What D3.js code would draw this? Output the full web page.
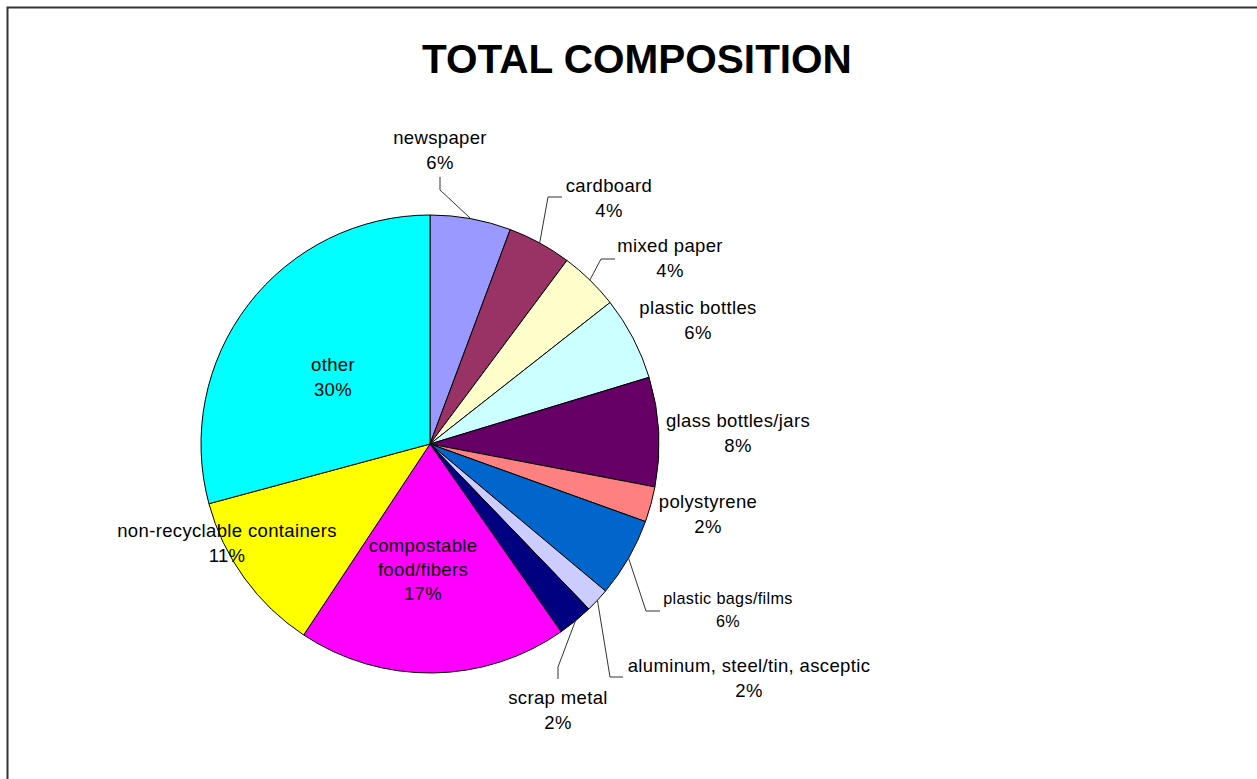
<!DOCTYPE html>
<html>
<head>
<meta charset="utf-8">
<script src="https://cdn.jsdelivr.net/npm/d3@7/dist/d3.min.js"></script>
<style>
  html, body { margin: 0; padding: 0; background: #fff; }
  svg { display: block; }
  text { font-family: "Liberation Sans", Arial, sans-serif; fill: #000; }
</style>
</head>
<body>
<svg id="chart" width="1257" height="779"></svg>
<script>
// slices, clockwise from 12 o'clock
var categories = ['newspaper', 'cardboard', 'mixed paper', 'plastic bottles',
  'glass bottles/jars', 'polystyrene', 'plastic bags/films',
  'aluminum, steel/tin, asceptic', 'scrap metal', 'compostable food/fibers',
  'non-recyclable containers', 'other'];
var shares = [5.7, 4.5, 4.2, 5.9, 7.7, 2.5, 5.6, 1.7, 2.5, 19.0, 11.5, 29.2];
var pctLabels = ['6%', '4%', '4%', '6%', '8%', '2%', '6%', '2%', '2%', '17%', '11%', '30%'];
var colors = ['#9999ff', '#993366', '#ffffcc', '#ccffff', '#660066', '#ff8080',
  '#0066cc', '#ccccff', '#000080', '#ff00ff', '#ffff00', '#00ffff'];

// label layout: text lines, centre x, first baseline, line step, font size,
// and the elbow of the leader line (null when there is none)
var labelLayout = [
  { lines: ['newspaper'], x: 440, y: 144, step: 25, size: 18.5, leader: [[440, 177], [440, 190]] },
  { lines: ['cardboard'], x: 609, y: 192, step: 25, size: 18.5, leader: [[562, 197], [548, 197]] },
  { lines: ['mixed paper'], x: 670, y: 252, step: 25, size: 18.5, leader: [[615, 259], [601, 259]] },
  { lines: ['plastic bottles'], x: 698, y: 314, step: 25, size: 18.5, leader: null },
  { lines: ['glass bottles/jars'], x: 738, y: 427, step: 25, size: 18.5, leader: null },
  { lines: ['polystyrene'], x: 708, y: 508, step: 25, size: 18.5, leader: null },
  { lines: ['plastic bags/films'], x: 728, y: 604, step: 23, size: 16.2, leader: [[660, 611], [646, 611]] },
  { lines: ['aluminum, steel/tin, asceptic'], x: 749, y: 672, step: 25, size: 18.5, leader: [[623, 677], [610, 677]] },
  { lines: ['scrap metal'], x: 558, y: 704, step: 25, size: 18.5, leader: [[558, 679], [558, 667]] },
  { lines: ['compostable', 'food/fibers'], x: 423, y: 552, step: 24, size: 18.5, leader: null },
  { lines: ['non-recyclable containers'], x: 227, y: 537, step: 25, size: 18.5, leader: null },
  { lines: ['other'], x: 333, y: 371, step: 25, size: 18.5, leader: null }
];

var cx = 430, cy = 444, radius = 229;

var svg = d3.select('#chart');

// outer frame (runs off the right and bottom edges)
svg.append('rect')
  .attr('x', 7.5).attr('y', 7.5)
  .attr('width', 1400).attr('height', 900)
  .attr('fill', 'none')
  .attr('stroke', '#333')
  .attr('stroke-width', 2);

svg.append('text')
  .attr('x', 637).attr('y', 73)
  .attr('text-anchor', 'middle')
  .style('font-size', '40.5px')
  .style('font-weight', 'bold')
  .text('TOTAL COMPOSITION');

var data = categories.map(function (c, i) {
  return { name: c, value: shares[i], pct: pctLabels[i], color: colors[i], layout: labelLayout[i] };
});

var pie = d3.pie().sort(null).value(function (d) { return d.value; });
var arc = d3.arc().innerRadius(0).outerRadius(radius);
var edge = d3.arc().innerRadius(radius).outerRadius(radius);

var arcs = pie(data);

var g = svg.append('g').attr('transform', 'translate(' + cx + ',' + cy + ')');

g.selectAll('path.slice')
  .data(arcs)
  .enter().append('path')
  .attr('class', 'slice')
  .attr('d', arc)
  .attr('fill', function (d) { return d.data.color; })
  .attr('stroke', '#000')
  .attr('stroke-width', 1)
  .attr('stroke-linejoin', 'round');

// leader lines from the label elbow to the slice's outer edge
var line = d3.line();
svg.selectAll('path.leader')
  .data(arcs.filter(function (d) { return d.data.layout.leader; }))
  .enter().append('path')
  .attr('class', 'leader')
  .attr('d', function (d) {
    var p = edge.centroid(d);
    var pts = d.data.layout.leader.concat([[cx + p[0], cy + p[1]]]);
    return line(pts);
  })
  .attr('fill', 'none')
  .attr('stroke', '#333')
  .attr('stroke-width', 1);

var labels = svg.selectAll('text.label')
  .data(arcs)
  .enter().append('text')
  .attr('class', 'label')
  .attr('text-anchor', 'middle')
  .style('letter-spacing', '0.35px')
  .style('font-size', function (d) { return d.data.layout.size + 'px'; });

labels.each(function (d) {
  var t = d3.select(this);
  var L = d.data.layout;
  L.lines.concat([d.data.pct]).forEach(function (s, i) {
    t.append('tspan')
      .attr('x', L.x)
      .attr('y', L.y + i * L.step)
      .text(s);
  });
});
</script>
</body>
</html>
